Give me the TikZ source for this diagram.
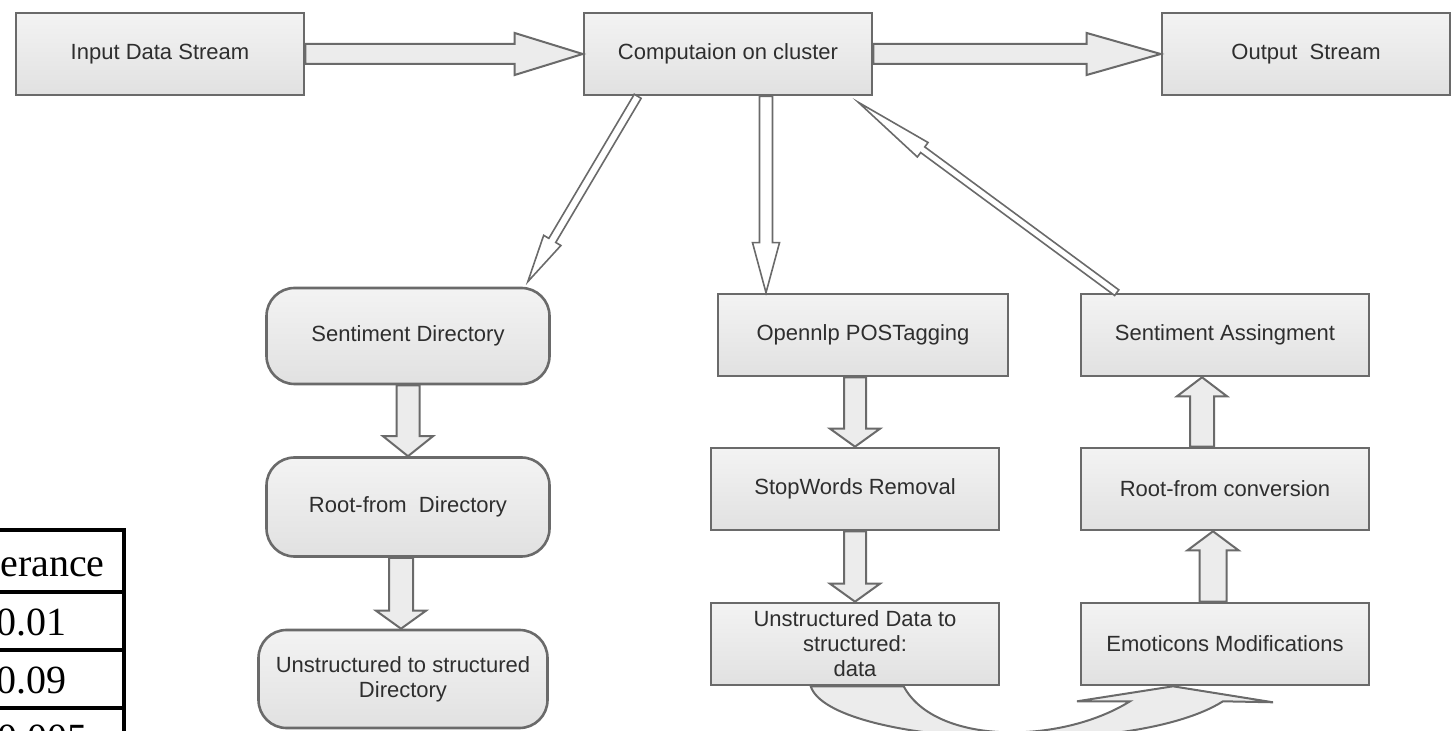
\documentclass[tikz,border=0pt]{standalone}
\usepackage{fontspec}
\setmainfont{Liberation Sans}
\newfontfamily\tablefont{Liberation Serif}
\usetikzlibrary{calc,positioning}
\definecolor{BoxLine}{HTML}{6A6A6A}
\definecolor{BoxTop}{HTML}{F3F3F3}
\definecolor{BoxBottom}{HTML}{E1E1E1}
\definecolor{ArrowFill}{HTML}{ECECEC}
\definecolor{LabelGray}{HTML}{2E2E2E}
\tikzset{
  stage/.style={draw=BoxLine,line width=1.3pt,top color=BoxTop,bottom color=BoxBottom,
    minimum width=144pt,minimum height=41pt,inner sep=1pt,align=center,
    font=\fontsize{11}{12.5}\selectfont,text=LabelGray},
  dirstage/.style={stage,rounded corners=14pt,minimum width=141.5pt,minimum height=48pt},
  fatarrow/.style={draw=BoxLine,line width=1pt,fill=ArrowFill,line join=miter},
  slimarrow/.style={draw=BoxLine,line width=.8pt,fill=white,line join=miter},
  tabline/.style={draw=black,line width=1.6pt},
  tabtext/.style={font=\tablefont\fontsize{20}{22}\selectfont,inner sep=0pt}
}
\newcommand{\FatArrow}[6][fatarrow]{%
  \coordinate (fa-s) at #2;
  \coordinate (fa-e) at #3;
  \coordinate (fa-h) at ($(fa-e)!#6!(fa-s)$);
  \draw[#1] ($(fa-s)!#4!90:(fa-e)$) -- ($(fa-h)!#4!90:(fa-e)$)
    -- ($(fa-h)!#5!90:(fa-e)$) -- (fa-e) -- ($(fa-h)!#5!-90:(fa-e)$)
    -- ($(fa-h)!#4!-90:(fa-e)$) -- ($(fa-s)!#4!-90:(fa-e)$) -- cycle;
}

\begin{document}
\begin{tikzpicture}[x=0.5pt,y=-0.5pt]
  \path[use as bounding box] (0,0) rectangle (1456,731);
  \clip (0,0) rectangle (1456,731);

  \node[stage] (inp) at (160,54) {Input Data Stream};
  \node[stage] (comp) at (728,54) {Computaion on cluster};
  \node[stage] (outp) at (1306,54) {Output\ \ Stream};

  \node[dirstage] (sentdir) at (408,336) {Sentiment Directory};
  \node[dirstage,minimum height=49.5pt] (rootdir) at (408,507) {Root-from\ \ Directory};
  \node[dirstage,minimum width=144.5pt,minimum height=49pt] (unsdir) at (403,679)
    {Unstructured to structured\\Directory};

  \node[stage,minimum width=145pt] (opennlp) at (863,335) {Opennlp POSTagging};
  \node[stage] (stopw) at (855,489) {StopWords Removal};
  \node[stage] (unsdata) at (855,644) {Unstructured Data to\\structured:\\data};

  \node[stage] (sentassign) at (1225,335) {Sentiment Assingment};
  \node[stage] (rootconv) at (1225,489) {Root-from conversion};
  \node[stage] (emot) at (1225,644) {Emoticons Modifications};

  \FatArrow{(inp.east)}{(comp.west)}{5pt}{10.5pt}{34pt}
  \FatArrow{(comp.east)}{(outp.west)}{5pt}{10.5pt}{37pt}

  \FatArrow[slimarrow]{($(comp.south west)+(55,0)$)}{($(sentdir.north east)+(-23,-5)$)}{2pt}{5pt}{24pt}
  \coordinate (c1) at ($(comp.south)+(38,0)$);
  \FatArrow[slimarrow]{(c1)}{(c1 |- opennlp.north)}{3.25pt}{6.75pt}{25pt}
  \FatArrow[slimarrow]{($(sentassign.north west)+(37,0)$)}{($(comp.south east)+(-15,6)$)}{1.75pt}{4.5pt}{40pt}

  \FatArrow{(sentdir.south)}{(sentdir.south |- rootdir.north)}{5.75pt}{12.5pt}{10pt}
  \coordinate (r1) at ($(rootdir.south)+(-7,0)$);
  \FatArrow{(r1)}{(r1 |- unsdir.north)}{6pt}{12.5pt}{9pt}

  \FatArrow{(stopw.north |- opennlp.south)}{(stopw.north)}{5.5pt}{12.5pt}{9pt}
  \FatArrow{(stopw.south)}{(unsdata.north)}{5.5pt}{12.5pt}{9pt}

  \coordinate (e1) at ($(emot.north)+(-12,0)$);
  \FatArrow{(e1)}{(e1 |- rootconv.south)}{6.75pt}{12.75pt}{9.5pt}
  \coordinate (e2) at ($(rootconv.north)+(-23,0)$);
  \FatArrow{(e2)}{(e2 |- sentassign.south)}{6pt}{12.5pt}{9.5pt}

  \draw[fatarrow] ($(unsdata.south west)+(101,0)$)
    .. controls (830,745) and (1130,760) .. ($(emot.south)+(-2,15)$)
    -- ($(emot.south)+(48,16)$) -- ($(emot.south)+(-52,0)$)
    -- ($(emot.south)+(-148,15)$) -- ($(emot.south)+(-95,15)$)
    .. controls (1060,745) and (935,745) .. ($(unsdata.south west)+(194,0)$) -- cycle;

  \draw[tabline] (0,530) -- (126,530);
  \draw[tabline] (0,592) -- (124,592);
  \draw[tabline] (0,650) -- (124,650);
  \draw[tabline] (0,708) -- (124,708);
  \draw[tabline] (124,530) -- (124,740);
  \node[tabtext,anchor=base east] (tabhead) at (105,577) {erance};
  \node[tabtext,anchor=base west] (tabone) at (-4,635) {0.01};
  \node[tabtext,anchor=base west] (tabtwo) at (-4,693) {0.09};
  \node[tabtext,anchor=base west] (tabthree) at (-3,751) {0.005};
\end{tikzpicture}
\end{document}
